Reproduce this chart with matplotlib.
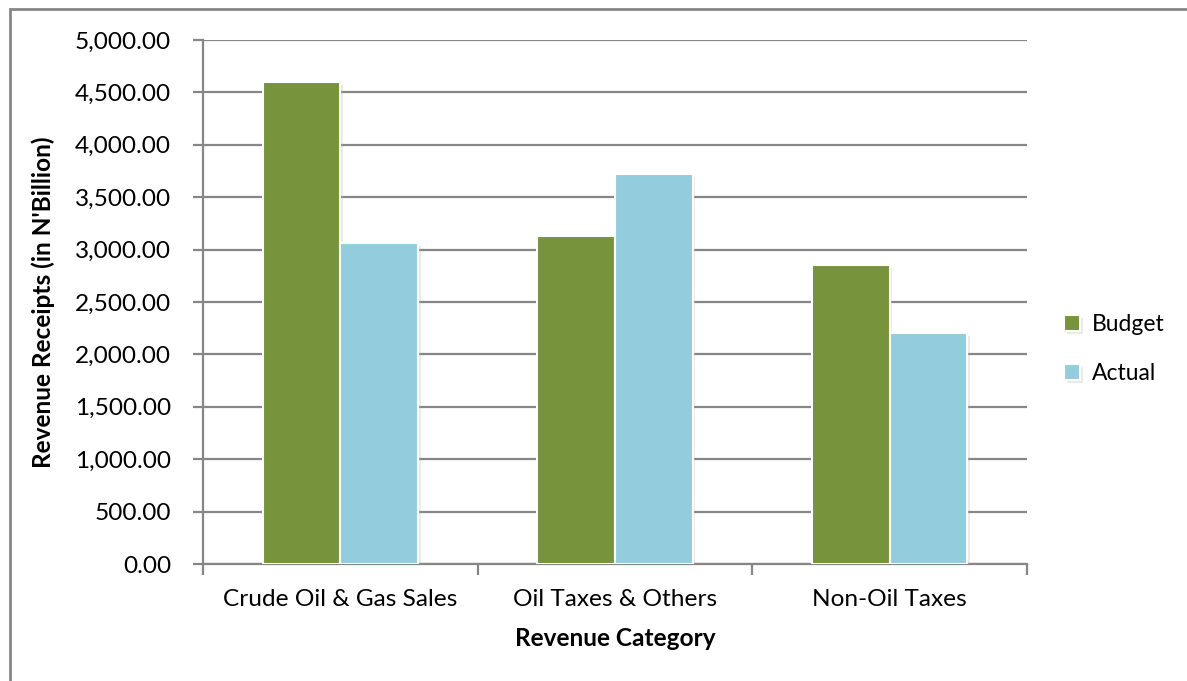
import matplotlib.pyplot as plt
import matplotlib.patheffects as pe
from matplotlib.patches import Rectangle
from matplotlib.ticker import FuncFormatter
import numpy as np

plt.rcParams['font.family'] = ['Lato', 'DejaVu Sans']

categories = ['Crude Oil & Gas Sales', 'Oil Taxes & Others', 'Non-Oil Taxes']
budget = [4600, 3127, 2850]
actual = [3065, 3720, 2205]

green = '#77933C'
blue = '#93CDDD'
grid_gray = '#868686'
fs = 17.6

fig = plt.figure(figsize=(11.87, 6.81), dpi=100)
ax = fig.add_axes([0.1710, 0.1718, 0.6942, 0.7695])

# outer chart border
fig.patches.append(Rectangle((10 / 1187, -0.1), 1.2, (681 - 9) / 681 + 0.1,
                             transform=fig.transFigure, fill=False,
                             edgecolor='#868686', linewidth=2))

x = np.arange(len(categories))
w = 0.283
shadow = [pe.SimplePatchShadow(offset=(2, -2), shadow_rgbFace='#bbbbbb', alpha=0.3),
          pe.Normal()]
b1 = ax.bar(x - w / 2, budget, w, color=green, edgecolor='white', linewidth=1.5,
            label='Budget', zorder=3, path_effects=shadow)
b2 = ax.bar(x + w / 2, actual, w, color=blue, edgecolor='white', linewidth=1.5,
            label='Actual', zorder=3, path_effects=shadow)

ax.set_xlim(-0.5, 2.5)
ax.set_ylim(0, 5000)
ax.set_yticks(np.arange(0, 5001, 500))
ax.yaxis.set_major_formatter(FuncFormatter(lambda v, p: f'{v:,.2f}'))
ax.yaxis.grid(True, color=grid_gray, linewidth=1.6, zorder=0)
ax.set_axisbelow(True)

ax.set_xticks(x)
ax.set_xticklabels(categories)
ax.set_xticks([-0.5, 0.5, 1.5, 2.5], minor=True)
ax.tick_params(axis='x', which='major', length=0, pad=18, labelsize=fs)
ax.tick_params(axis='x', which='minor', length=8, width=1.6, color=grid_gray, direction='out')
ax.tick_params(axis='y', length=7, width=1.6, color=grid_gray, pad=16, labelsize=fs)

for s in ['top', 'right']:
    ax.spines[s].set_visible(False)
for s in ['left', 'bottom']:
    ax.spines[s].set_color(grid_gray)
    ax.spines[s].set_linewidth(1.6)

ax.set_xlabel('Revenue Category', fontsize=fs, fontweight='bold', labelpad=12)
ax.set_ylabel("Revenue Receipts (in N'Billion)", fontsize=fs, fontweight='bold', labelpad=14)

ax.legend(handles=[b1, b2], loc='center left', bbox_to_anchor=(1.02, 0.41),
          frameon=False, fontsize=16.5, handlelength=0.7, handleheight=0.7,
          handletextpad=0.5, labelspacing=1.25)

fig.savefig('out.png', dpi=100)
